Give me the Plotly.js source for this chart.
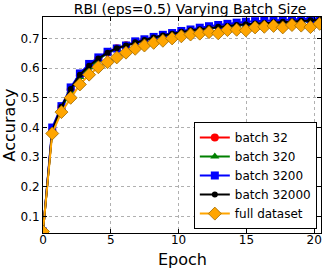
<!DOCTYPE html>
<html>
<head>
<meta charset="utf-8">
<script src="https://cdn.plot.ly/plotly-3.0.1.min.js"></script>
<style>html,body{margin:0;padding:0;background:#fff;}#chart{width:326px;height:270px;}</style>
</head>
<body>
<div id="chart"></div>
<script>
const epochs = [0, 0.68, 1.36, 2.04, 2.72, 3.4, 4.08, 4.76, 5.44, 6.12, 6.8, 7.48, 8.16, 8.84, 9.52, 10.2, 10.88, 11.56, 12.24, 12.92, 13.6, 14.28, 14.96, 15.64, 16.32, 17.0, 17.68, 18.36, 19.04, 19.72, 20.4];
const batch32 = [0.05, 0.39, 0.468, 0.528, 0.575, 0.606, 0.632, 0.652, 0.667, 0.677, 0.687, 0.695, 0.703, 0.71, 0.716, 0.722, 0.727, 0.731, 0.735, 0.739, 0.742, 0.745, 0.748, 0.750, 0.752, 0.754, 0.756, 0.758, 0.759, 0.760, 0.761];
const batch320 = [0.05, 0.39, 0.465, 0.522, 0.57, 0.603, 0.628, 0.65, 0.665, 0.676, 0.686, 0.694, 0.702, 0.709, 0.715, 0.721, 0.726, 0.73, 0.734, 0.738, 0.741, 0.744, 0.747, 0.749, 0.751, 0.753, 0.755, 0.757, 0.758, 0.759, 0.760];
const batch3200 = [0.05, 0.40, 0.472, 0.535, 0.582, 0.614, 0.636, 0.655, 0.666, 0.676, 0.69, 0.697, 0.705, 0.712, 0.718, 0.725, 0.73, 0.736, 0.741, 0.745, 0.749, 0.753, 0.756, 0.758, 0.760, 0.762, 0.763, 0.764, 0.765, 0.766, 0.767];
const batch32000 = [0.05, 0.39, 0.47, 0.53, 0.578, 0.608, 0.632, 0.652, 0.667, 0.676, 0.687, 0.695, 0.703, 0.71, 0.716, 0.722, 0.727, 0.731, 0.735, 0.739, 0.742, 0.745, 0.748, 0.750, 0.752, 0.754, 0.756, 0.758, 0.759, 0.761, 0.762];
const fullDataset = [0.05, 0.38, 0.452, 0.50, 0.545, 0.578, 0.603, 0.62, 0.636, 0.652, 0.665, 0.676, 0.685, 0.692, 0.700, 0.707, 0.713, 0.716, 0.721, 0.717, 0.728, 0.729, 0.727, 0.737, 0.739, 0.742, 0.737, 0.745, 0.743, 0.738, 0.749];
const names = ["batch 32", "batch 320", "batch 3200", "batch 32000", "full dataset"];
const xTitle = "Epoch";
const yTitle = "Accuracy";

const styles = [
  {color: "#ff0000", symbol: "circle", size: 8},
  {color: "#008000", symbol: "triangle-up", size: 8},
  {color: "#0000ff", symbol: "square", size: 8},
  {color: "#000000", symbol: "circle", size: 6},
  {color: "#ffa500", symbol: "diamond", size: 10}
];
const series = [batch32, batch320, batch3200, batch32000, fullDataset];
const traces = series.map((ys, k) => ({
  x: epochs, y: ys, name: names[k], type: "scatter", mode: "lines+markers",
  line: {color: styles[k].color, width: 2},
  marker: {color: styles[k].color, symbol: styles[k].symbol, size: styles[k].size,
           line: {color: k === 4 ? "#a06a00" : styles[k].color, width: k === 4 ? 0.8 : 0}}
}));
const font = "DejaVu Sans, sans-serif";
const layout = {
  width: 326, height: 270,
  margin: {l: 43, r: 5, t: 17, b: 37},
  paper_bgcolor: "#fff", plot_bgcolor: "#fff",
  title: {text: "RBI (eps=0.5) Varying Batch Size", font: {family: font, size: 14, color: "#000"},
          x: 0.583, xanchor: "center", xref: "container", yref: "container", y: 0.985, yanchor: "top"},
  xaxis: {range: [0, 20.5], tickvals: [0, 5, 10, 15, 20], ticktext: ["0", "5", "10", "15", "20"],
          showline: true, linecolor: "#000", linewidth: 1, mirror: "ticks", ticks: "inside", ticklen: 4, tickcolor: "#000",
          showgrid: true, gridcolor: "#b0b0b0", griddash: "dot", gridwidth: 1, zeroline: false,
          ticklabelstandoff: -4,
          tickfont: {family: font, size: 12, color: "#000"}},
  yaxis: {range: [0.045, 0.772], tickvals: [0.1, 0.2, 0.3, 0.4, 0.5, 0.6, 0.7], ticktext: ["0.1", "0.2", "0.3", "0.4", "0.5", "0.6", "0.7"],
          showline: true, linecolor: "#000", linewidth: 1, mirror: "ticks", ticks: "inside", ticklen: 4, tickcolor: "#000",
          showgrid: true, gridcolor: "#b0b0b0", griddash: "dot", gridwidth: 1, zeroline: false,
          tickfont: {family: font, size: 12, color: "#000"},
          title: {text: yTitle, font: {family: font, size: 16, color: "#000"}, standoff: 3}},
  annotations: [{text: xTitle, xref: "paper", yref: "paper", x: 0.5, y: -0.122, xanchor: "center", yanchor: "middle",
                 showarrow: false, font: {family: font, size: 16, color: "#000"}}],
  legend: {x: 0.985, xanchor: "right", y: 0.018, yanchor: "bottom", bgcolor: "#fff", bordercolor: "#000", borderwidth: 1,
           font: {family: font, size: 12, color: "#000"}, tracegroupgap: 0, itemwidth: 30},
  showlegend: true
};
Plotly.newPlot("chart", traces, layout, {displayModeBar: false, staticPlot: true});
</script>
</body>
</html>
